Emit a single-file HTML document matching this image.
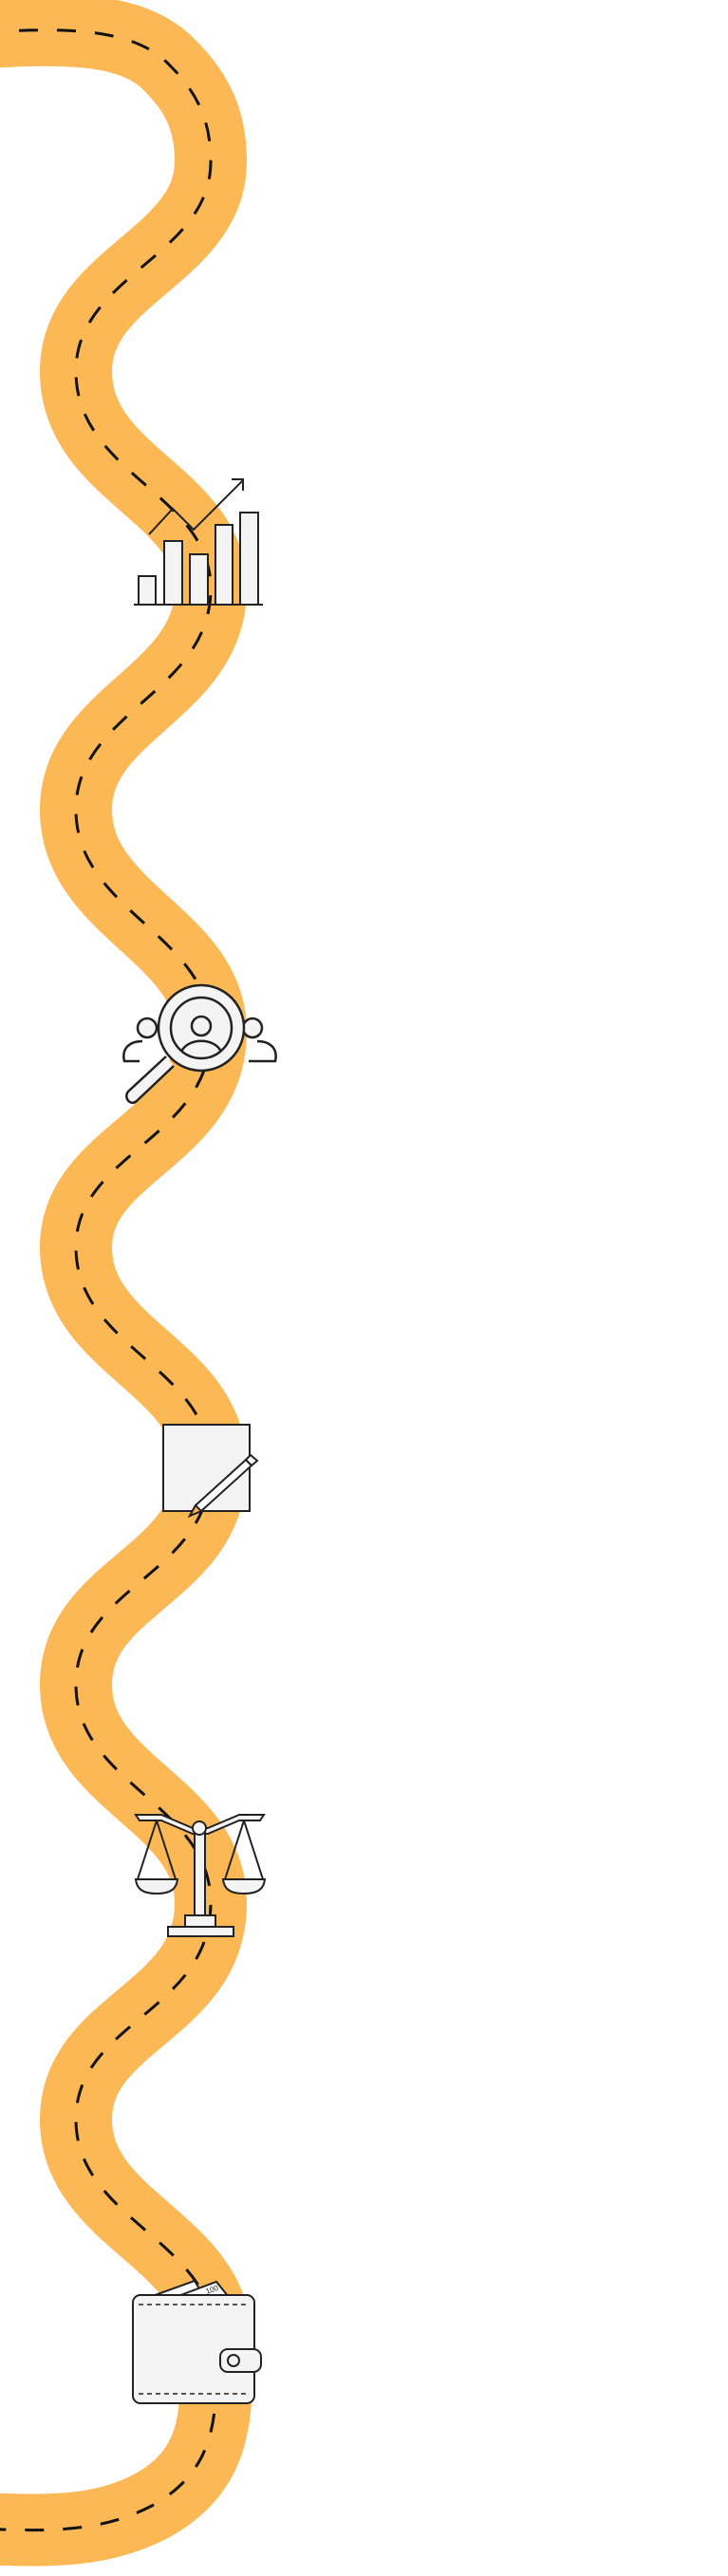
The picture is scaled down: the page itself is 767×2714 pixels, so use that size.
<!DOCTYPE html>
<html><head><meta charset="utf-8"><style>
html,body{margin:0;padding:0;background:#fff;}
svg{display:block}
</style></head><body>
<svg width="767" height="2714" viewBox="0 0 767 2714" xmlns="http://www.w3.org/2000/svg">
<defs>
<path id="road" d="M -20 34 C 60 30, 140 26, 180 70 C 210 100, 222 130, 222 170
 C 222 270, 80 290, 80 391
 C 80 500, 222 520, 222 620
 C 222 730, 80 750, 80 853
 C 80 960, 222 985, 222 1087
 C 222 1200, 80 1215, 80 1314
 C 80 1420, 222 1440, 222 1545
 C 222 1660, 80 1670, 80 1775
 C 80 1880, 222 1900, 222 2005
 C 222 2120, 80 2130, 80 2233
 C 80 2340, 228 2360, 228 2470
 C 228 2540, 232 2600, 160 2640 C 110 2666, 60 2668, -20 2664"/>
</defs>
<use href="#road" fill="none" stroke="#fbb854" stroke-width="76"/>
<use href="#road" fill="none" stroke="#111" stroke-width="3" stroke-dasharray="20 20"/>

<!-- chart -->
<g stroke="#222" stroke-width="2" fill="#f4f4f4">
<rect x="146" y="607" width="18" height="30"/>
<rect x="173" y="570" width="19" height="67"/>
<rect x="200" y="584" width="19" height="53"/>
<rect x="227" y="553" width="18" height="84"/>
<rect x="253" y="540" width="19" height="97"/>
<line x1="141" y1="637" x2="277" y2="637"/>
<polyline points="157,563 182,536 204,558 256,506" fill="none"/>
<polyline points="244,505 256,505 256,517" fill="none"/>
</g>

<!-- magnifier & people -->
<g stroke="#222" stroke-width="2.5" fill="#f4f4f4">
<circle cx="155" cy="1083" r="10"/>
<path d="M147 1118 H131 C128 1105 136 1097 150 1097" fill="none"/>
<circle cx="266" cy="1083" r="10"/>
<path d="M262 1118 H290 C293 1105 285 1097 271 1097" fill="none"/>
<path d="M175 1113 L135 1150 C130 1156 137 1166 144 1160 L183 1123" fill="#f4f4f4"/>
<circle cx="212" cy="1083" r="45"/>
<circle cx="212" cy="1083" r="32"/>
<circle cx="212" cy="1081" r="10"/>
<path d="M191 1108 C198 1093 226 1093 233 1108" fill="none"/>
</g>

<!-- pencil -->
<g stroke="#222" stroke-width="2">
<rect x="172" y="1501" width="91" height="91" fill="#f4f4f4"/>
<path d="M200 1597 L206 1586 L259 1538 L265 1544 L212 1592 Z" fill="#fff"/>
<path d="M259 1538 L264 1533 L271 1539 L265 1544 Z" fill="#fff"/>
<path d="M200 1597 L206 1586 L212 1592 Z" fill="#fbb854"/>
</g>

<!-- scales -->
<g stroke="#222" stroke-width="2" fill="#f4f4f4">
<path d="M143 1912 H170 L203 1926 H219 L252 1912 H278 L274 1918 H252 L219 1932 H203 L170 1918 H147 Z"/>
<line x1="165" y1="1918" x2="145" y2="1980" fill="none"/>
<line x1="165" y1="1918" x2="185" y2="1980" fill="none"/>
<path d="M143 1980 H187 C186 1990 180 1995 165 1995 C150 1995 144 1990 143 1980 Z"/>
<line x1="257" y1="1918" x2="237" y2="1980" fill="none"/>
<line x1="257" y1="1918" x2="277" y2="1980" fill="none"/>
<path d="M235 1980 H279 C278 1990 272 1995 257 1995 C242 1995 236 1990 235 1980 Z"/>
<rect x="205" y="1928" width="11" height="90"/>
<circle cx="210" cy="1926" r="7"/>
<rect x="195" y="2018" width="32" height="12"/>
<rect x="177" y="2030" width="69" height="10"/>
</g>

<!-- wallet -->
<g stroke="#222" stroke-width="2" fill="#f4f4f4">
<path d="M158 2420 L205 2403 L215 2420 Z" fill="#fff"/>
<path d="M185 2420 L228 2404 L245 2425 Z" fill="#fff"/>
<text x="218" y="2417" font-family="Liberation Sans, sans-serif" font-size="8" fill="#222" stroke="none" transform="rotate(-20 218 2417)">100</text>
<rect x="140" y="2418" width="128" height="114" rx="8"/>
<path d="M146 2428 H262" stroke-dasharray="5 4" fill="none" stroke-width="1.5"/>
<path d="M146 2522 H262" stroke-dasharray="5 4" fill="none" stroke-width="1.5"/>
<rect x="232" y="2475" width="43" height="24" rx="8"/>
<circle cx="246" cy="2487" r="6"/>
</g>
</svg>
</body></html>
